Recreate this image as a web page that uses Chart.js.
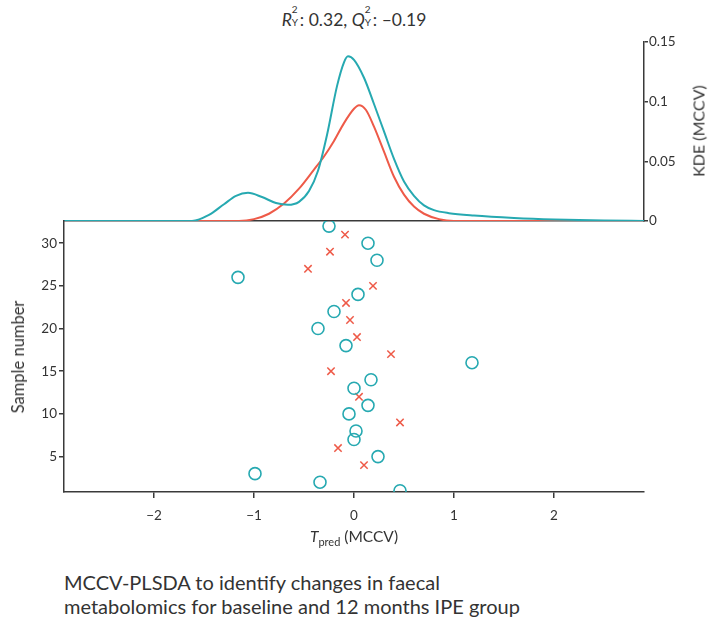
<!DOCTYPE html>
<html>
<head>
<meta charset="utf-8">
<script src="https://cdn.jsdelivr.net/npm/chart.js@4"></script>
<style>
  body { margin: 0; background: #fff; font-family: Lato, sans-serif; color: #333; }
  #wrap { position: relative; width: 709px; height: 623px; overflow: hidden; }
  canvas { position: absolute; left: 0; }
  #kde { top: 0; }
  #scatter { top: 200px; }
  .lbl { position: absolute; white-space: nowrap; }
  #title { left: 0; width: 708px; top: 8px; font-size: 17.5px; text-align: center; }
  .ss { display: inline-block; position: relative; width: 8px; height: 1em; }
  .ss .sp { position: absolute; left: 0; top: -5px; font-size: 10px; }
  .ss .sb { position: absolute; left: 0; top: 8px; font-size: 10px; }
  #xtitle { left: 0; width: 708px; top: 527px; font-size: 15.5px; text-align: center; }
  #xtitle sub { font-size: 11px; }
  .rot { transform: translate(-50%, -50%) rotate(-90deg); }
  #ytitle { left: 18px; top: 357px; font-size: 16.5px; }
  #kdetitle { left: 698px; top: 131px; font-size: 16px; }
  #caption { left: 64px; top: 570px; font-size: 20px; line-height: 24px; }
</style>
</head>
<body>
<div id="wrap">
  <div class="lbl" id="title"><i>R</i><span class="ss"><span class="sp">2</span><span class="sb">Y</span></span>: 0.32, <i>Q</i><span class="ss"><span class="sp">2</span><span class="sb">Y</span></span>: –0.19</div>
  <canvas id="kde" width="709" height="230"></canvas>
  <canvas id="scatter" width="709" height="330"></canvas>
  <div class="lbl" id="xtitle"><i>T</i><sub>pred</sub> (MCCV)</div>
  <div class="lbl rot" id="ytitle">Sample number</div>
  <div class="lbl rot" id="kdetitle">KDE (MCCV)</div>
  <div class="lbl" id="caption">MCCV-PLSDA to identify changes in faecal<br>metabolomics for baseline and 12 months IPE group</div>
</div>
<script>
// scatter: sample number vs predicted score, two groups
const circleSample = [1, 2, 3, 5, 7, 8, 10, 11, 13, 14, 16, 18, 20, 22, 24, 26, 28, 30, 32];
const circleTpred = [0.46, -0.34, -0.99, 0.24, 0.00, 0.02, -0.05, 0.14, 0.00, 0.17, 1.18, -0.08, -0.36, -0.20, 0.04, -1.16, 0.23, 0.14, -0.25];
const crossSample = [4, 6, 9, 12, 15, 17, 19, 21, 23, 25, 27, 29, 31];
const crossTpred = [0.10, -0.16, 0.46, 0.05, -0.23, 0.37, 0.03, -0.04, -0.08, 0.19, -0.46, -0.24, -0.09];

// kernel density curves
const tealX = [-2.9, -1.62, -1.45, -1.3, -1.18, -1.06, -0.92, -0.78, -0.66, -0.55, -0.45, -0.36, -0.27, -0.17, -0.1, -0.06, 0.0, 0.1, 0.2, 0.3, 0.4, 0.5, 0.6, 0.7, 0.8, 0.95, 1.2, 1.6, 2.0, 2.5, 2.9];
const tealKde = [0, 0, 0.005, 0.014, 0.021, 0.0235, 0.02, 0.015, 0.0135, 0.016, 0.025, 0.042, 0.072, 0.113, 0.133, 0.138, 0.135, 0.12, 0.098, 0.075, 0.052, 0.033, 0.021, 0.013, 0.009, 0.0065, 0.0045, 0.0025, 0.0012, 0.0003, 0];
const redX = [-2.9, -1.15, -1.0, -0.85, -0.7, -0.55, -0.4, -0.3, -0.2, -0.1, 0.0, 0.05, 0.12, 0.2, 0.3, 0.4, 0.5, 0.6, 0.7, 0.85, 1.0, 2.9];
const redKde = [0, 0, 0.0015, 0.006, 0.0145, 0.027, 0.043, 0.054, 0.067, 0.082, 0.094, 0.097, 0.093, 0.079, 0.058, 0.037, 0.022, 0.012, 0.006, 0.0015, 0, 0];

const xTicks = [-2, -1, 0, 1, 2];
const yTicks = [5, 10, 15, 20, 25, 30];
const kdeTicks = [0, 0.05, 0.1, 0.15];
const kdeTickLabels = ['0', '0.05', '0.1', '0.15'];

const teal = '#26a9b1';
const red = '#ee5a48';
const axisCol = '#3a3a3a';
const tickFont = { family: 'Lato', size: 13.5 };

Chart.defaults.color = '#333';
Chart.defaults.font.family = 'Lato';

const zip = (xs, ys) => xs.map((x, i) => ({ x: x, y: ys[i] }));

new Chart(document.getElementById('kde'), {
  type: 'line',
  data: {
    datasets: [
      { data: zip(tealX, tealKde), borderColor: teal, borderWidth: 2, pointRadius: 0, cubicInterpolationMode: 'monotone' },
      { data: zip(redX, redKde), borderColor: red, borderWidth: 2, pointRadius: 0, cubicInterpolationMode: 'monotone' }
    ]
  },
  options: {
    responsive: false,
    animation: false,
    layout: { padding: { left: 64, top: 42, right: 0, bottom: 0 } },
    plugins: { legend: { display: false }, tooltip: { enabled: false } },
    scales: {
      x: {
        type: 'linear', min: -2.9, max: 2.9,
        ticks: { display: false },
        grid: { display: false },
        border: { display: true, color: axisCol, width: 1.5 },
        afterFit: s => { s.height = 9; }
      },
      y: {
        position: 'right', min: 0, max: 0.15,
        afterBuildTicks: s => { s.ticks = kdeTicks.map(v => ({ value: v })); },
        ticks: { font: tickFont, padding: 1, callback: (v, i) => kdeTickLabels[i] },
        grid: { drawOnChartArea: false, tickLength: 4, color: axisCol, lineWidth: 1.5 },
        border: { display: true, color: axisCol, width: 1.5 },
        afterFit: s => { s.width = 65; }
      }
    }
  }
});

new Chart(document.getElementById('scatter'), {
  type: 'scatter',
  data: {
    datasets: [
      { data: zip(circleTpred, circleSample), pointStyle: 'circle', pointRadius: 6, borderColor: teal, backgroundColor: 'rgba(0,0,0,0)', borderWidth: 1.6 },
      { data: zip(crossTpred, crossSample), pointStyle: 'crossRot', pointRadius: 5.2, borderColor: red, backgroundColor: red, borderWidth: 1.5 }
    ]
  },
  options: {
    responsive: false,
    animation: false,
    layout: { padding: { left: 0, top: 21, right: 65, bottom: 0 } },
    plugins: { legend: { display: false }, tooltip: { enabled: false } },
    scales: {
      x: {
        type: 'linear', min: -2.9, max: 2.9,
        afterBuildTicks: s => { s.ticks = xTicks.map(v => ({ value: v })); },
        ticks: { font: tickFont, padding: 10, callback: v => (v < 0 ? '\u2212' + Math.abs(v) : String(v)) },
        grid: { drawOnChartArea: false, tickLength: 6, color: axisCol, lineWidth: 1.5 },
        border: { display: true, color: axisCol, width: 1.5 },
        afterFit: s => { s.height = 38; }
      },
      y: {
        min: 0.85, max: 32.6,
        afterBuildTicks: s => { s.ticks = yTicks.map(v => ({ value: v })); },
        ticks: { font: tickFont, padding: 2 },
        grid: { drawOnChartArea: false, tickLength: 5, color: axisCol, lineWidth: 1.5 },
        border: { display: true, color: axisCol, width: 1.5 },
        afterFit: s => { s.width = 64; }
      }
    }
  }
});
</script>
</body>
</html>
